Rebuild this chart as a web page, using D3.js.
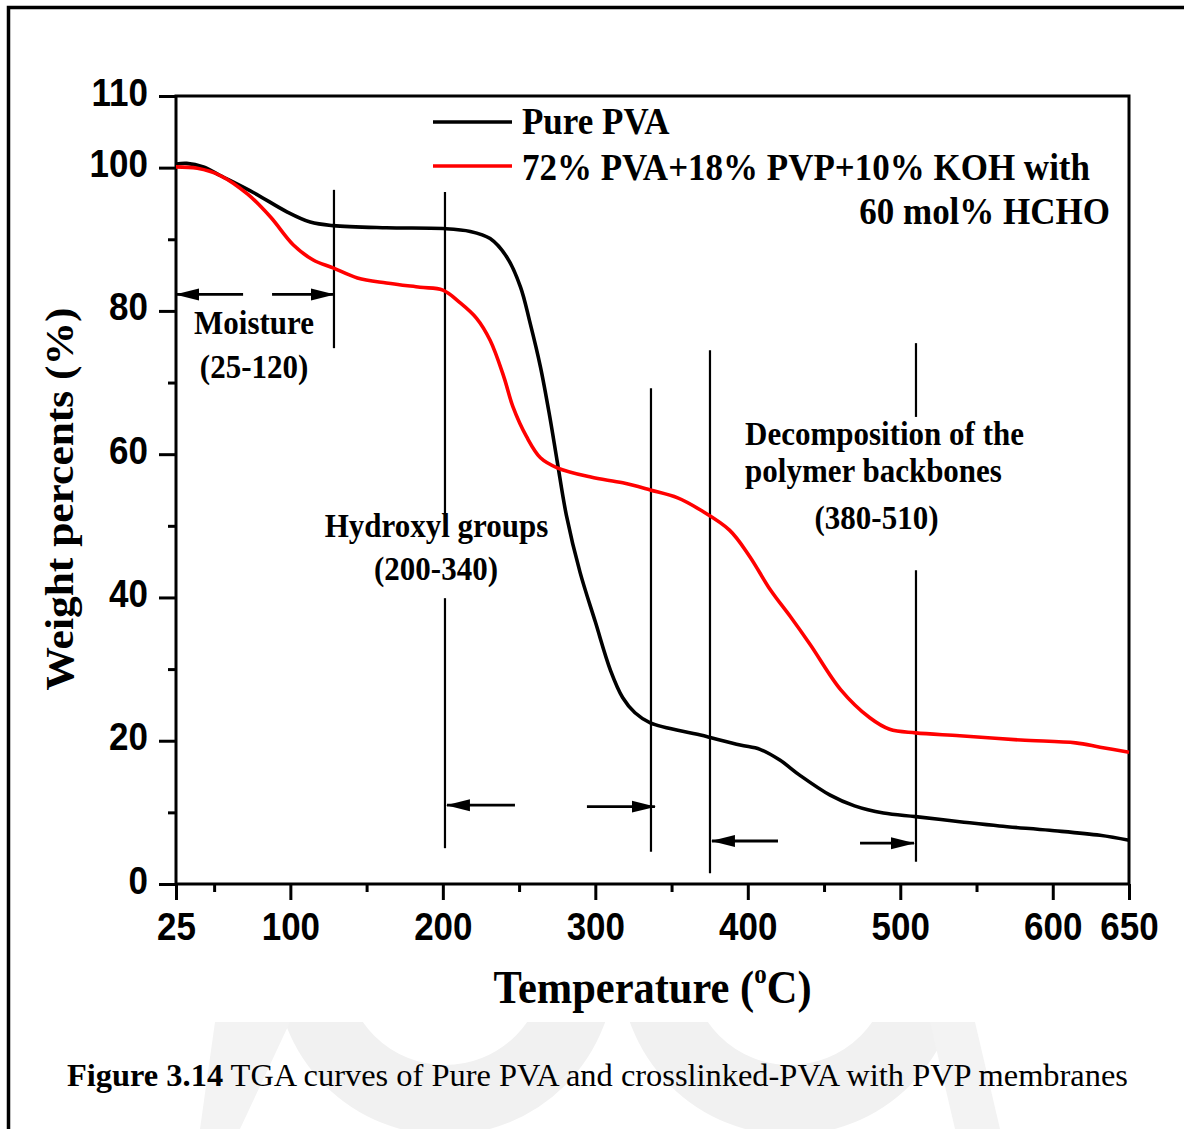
<!DOCTYPE html>
<html>
<head>
<meta charset="utf-8">
<script src="https://cdn.jsdelivr.net/npm/d3@7/dist/d3.min.js"></script>
<style>
  body { margin: 0; background: #fff; }
  svg { display: block; }
</style>
</head>
<body>
<div id="chart"></div>
<script>
// values: temperature (°C) and weight (%)
const pvaTemp = [25, 32, 43, 54, 76, 98, 113, 128, 163, 200, 218, 231, 242, 251, 257, 264, 270, 275, 281, 290, 300, 310, 318, 326, 336, 369, 395, 408, 421, 434, 454, 470, 489, 510, 539, 565, 598, 631, 650];
const pvaWeight = [100.5, 100.6, 100.1, 98.9, 96.5, 93.8, 92.4, 91.9, 91.6, 91.5, 91.1, 90.1, 87.5, 83.3, 78.5, 72.2, 65.4, 59.0, 51.5, 43.5, 36.6, 29.8, 26.0, 23.9, 22.5, 20.8, 19.4, 18.8, 17.3, 15.2, 12.4, 10.9, 9.9, 9.4, 8.7, 8.1, 7.5, 6.8, 6.1];

const blendTemp = [25, 39, 54, 72, 87, 102, 115, 128, 144, 163, 185, 200, 211, 222, 231, 240, 246, 255, 264, 275, 297, 318, 336, 354, 369, 388, 401, 415, 428, 441, 461, 480, 493, 510, 539, 579, 615, 631, 650];
const blendWeight = [100.1, 99.9, 98.9, 96.3, 93.1, 89.2, 87.1, 86.0, 84.6, 83.9, 83.3, 82.9, 81.2, 79.0, 75.9, 70.8, 66.6, 62.4, 59.5, 58.1, 56.8, 56.0, 55.0, 53.9, 52.2, 49.4, 45.8, 41.0, 37.3, 33.4, 27.1, 23.2, 21.6, 21.1, 20.7, 20.1, 19.7, 19.1, 18.4];

const xTicks = [25, 100, 200, 300, 400, 500, 600, 650];
const xMinorTicks = [50, 150, 250, 350, 450, 550];
const yTicks = [0, 20, 40, 60, 80, 100, 110];
const yMinorTicks = [10, 30, 50, 70, 90];

const legendLabels = ["Pure PVA", "72% PVA+18% PVP+10% KOH with", "60 mol% HCHO"];
const seriesColors = ["#000000", "#ff0000"];

// region markers (temperature of the line, weight range it spans)
const markerLines = [
    [128.6, 96.9, 74.8],
    [201.4, 96.6, 50.4], [201.4, 39.9, 5.0],
    [336.5, 69.2, 4.5],
    [375.2, 74.5, 1.5],
    [510.3, 75.5, 65.2], [510.3, 43.8, 3.1]
];
// arrows: [from temp, to temp (tip), weight]
const markerArrows = [
    [69, 25, 82.3], [88, 128.6, 82.3],
    [247.3, 202.7, 11.0], [294.5, 339.1, 10.8],
    [419.8, 376.5, 6.0], [473.6, 509.0, 5.7]
];
// region texts: [text, temp, weight, anchor]
const regionTexts = [
    ["Moisture", 76.2, 76.8, "middle"],
    ["(25-120)", 76.2, 70.6, "middle"],
    ["Hydroxyl groups", 195.8, 48.4, "middle"],
    ["(200-340)", 195.5, 42.4, "middle"],
    ["Decomposition of the", 398.2, 61.3, "start"],
    ["polymer backbones", 398.2, 56.1, "start"],
    ["(380-510)", 484.4, 49.6, "middle"]
];

const width = 1184, height = 1129;
const plot = { left: 176, right: 1129, top: 96, bottom: 884 };
const serif = "'Liberation Serif', 'Times New Roman', serif";
const sans = "'Liberation Sans', Arial, sans-serif";
const stretch = 1.1; // the source picture is slightly taller than wide

const svg = d3.select('#chart')
    .append('svg')
    .attr('width', width)
    .attr('height', height);

svg.append('rect').attr('width', width).attr('height', height).attr('fill', '#fff');

// faint watermark under the caption
svg.append('clipPath').attr('id', 'wmClip')
    .append('rect').attr('x', 0).attr('y', 1022).attr('width', width).attr('height', 110);
const wm = svg.append('g').attr('clip-path', 'url(#wmClip)');
wm.append('circle').attr('cx', 445).attr('cy', 965).attr('r', 135)
    .attr('fill', 'none').attr('stroke', '#f1f1f1').attr('stroke-width', 70);
wm.append('circle').attr('cx', 790).attr('cy', 965).attr('r', 135)
    .attr('fill', 'none').attr('stroke', '#f1f1f1').attr('stroke-width', 70);
wm.append('path').attr('d', 'M215,1022 L290,1022 L240,1129 L200,1129 Z').attr('fill', '#f3f3f3');
wm.append('path').attr('d', 'M930,1022 L975,1022 L1000,1129 L955,1129 Z').attr('fill', '#f3f3f3');

// page frame (left and top edges)
svg.append('path')
    .attr('d', `M8.5,${height} V7.5 H${width}`)
    .attr('fill', 'none').attr('stroke', '#000').attr('stroke-width', 3.5);

const x = d3.scaleLinear().domain([25, 650]).range([plot.left, plot.right]);
const y = d3.scaleLinear().domain([0, 110]).range([plot.bottom, plot.top]);

function styleAxis(g) {
    g.select('.domain').remove();
    g.selectAll('.tick line').attr('stroke', '#000').attr('stroke-width', 3);
}

// minor ticks first, then major ticks with labels
svg.append('g')
    .attr('transform', `translate(0,${plot.bottom})`)
    .call(d3.axisBottom(x).tickValues(xMinorTicks).tickSize(8).tickFormat(''))
    .call(styleAxis);
svg.append('g')
    .attr('transform', `translate(0,${plot.bottom})`)
    .call(d3.axisBottom(x).tickValues(xTicks).tickSize(16).tickFormat(d3.format('d')))
    .call(styleAxis)
    .call(g => g.selectAll('.tick text')
        .attr('y', 56 / stretch).attr('dy', 0)
        .attr('transform', `scale(1,${stretch})`)
        .style('font-family', sans).style('font-weight', 'bold').style('font-size', '35px')
        .attr('fill', '#000'));

svg.append('g')
    .attr('transform', `translate(${plot.left},0)`)
    .call(d3.axisLeft(y).tickValues(yMinorTicks).tickSize(8).tickFormat(''))
    .call(styleAxis);
svg.append('g')
    .attr('transform', `translate(${plot.left},0)`)
    .call(d3.axisLeft(y).tickValues(yTicks).tickSize(17).tickFormat(d3.format('d')))
    .call(styleAxis)
    .call(g => g.selectAll('.tick text')
        .attr('x', -28).attr('y', 9 / stretch).attr('dy', 0)
        .attr('transform', `scale(1,${stretch})`)
        .style('font-family', sans).style('font-weight', 'bold').style('font-size', '35px')
        .attr('fill', '#000'));

// plot box
svg.append('rect')
    .attr('x', plot.left).attr('y', plot.top)
    .attr('width', plot.right - plot.left).attr('height', plot.bottom - plot.top)
    .attr('fill', 'none').attr('stroke', '#000').attr('stroke-width', 3);

// arrow head
svg.append('defs').append('marker')
    .attr('id', 'head')
    .attr('markerUnits', 'userSpaceOnUse')
    .attr('viewBox', '0 -7 24 14')
    .attr('refX', 23).attr('refY', 0)
    .attr('markerWidth', 24).attr('markerHeight', 14)
    .attr('orient', 'auto')
    .append('path').attr('d', 'M0,-6L24,0L0,6Z').attr('fill', '#000');

svg.append('g')
    .selectAll('line')
    .data(markerLines)
    .join('line')
    .attr('x1', d => x(d[0])).attr('x2', d => x(d[0]))
    .attr('y1', d => y(d[1])).attr('y2', d => y(d[2]))
    .attr('stroke', '#000').attr('stroke-width', 2.2);

svg.append('g')
    .selectAll('line')
    .data(markerArrows)
    .join('line')
    .attr('x1', d => x(d[0])).attr('x2', d => x(d[1]))
    .attr('y1', d => y(d[2])).attr('y2', d => y(d[2]))
    .attr('stroke', '#000').attr('stroke-width', 2.8)
    .attr('marker-end', 'url(#head)');

// curves
const line = d3.line()
    .x(d => x(d[0]))
    .y(d => y(d[1]))
    .curve(d3.curveCatmullRom.alpha(0.5));

const series = [
    d3.zip(pvaTemp, pvaWeight),
    d3.zip(blendTemp, blendWeight)
];

svg.append('g')
    .selectAll('path')
    .data(series)
    .join('path')
    .attr('d', line)
    .attr('fill', 'none')
    .attr('stroke', (d, i) => seriesColors[i])
    .attr('stroke-width', 3.6)
    .attr('stroke-linejoin', 'round');

function addText(txt, px, py, size, anchor, weight = 'bold', family = serif) {
    return svg.append('text')
        .attr('transform', `translate(${px},${py}) scale(1,${stretch})`)
        .attr('text-anchor', anchor)
        .style('font-family', family)
        .style('font-weight', weight)
        .style('font-size', size + 'px')
        .attr('fill', '#000')
        .text(txt);
}

// region labels
regionTexts.forEach(d => addText(d[0], x(d[1]), y(d[2]), 31, d[3]));

// legend
[122, 166].forEach((ly, i) => {
    svg.append('line')
        .attr('x1', 433).attr('x2', 512).attr('y1', ly).attr('y2', ly)
        .attr('stroke', seriesColors[i]).attr('stroke-width', 3.6);
});
addText(legendLabels[0], 522, 134, 35, 'start');
addText(legendLabels[1], 522, 180, 35, 'start');
addText(legendLabels[2], 1110, 224, 35, 'end');

// axis titles
const xTitle = addText('Temperature (', (plot.left + plot.right) / 2, 1003, 42.5, 'middle');
xTitle.append('tspan').attr('dy', -18).style('font-size', '25px').text('o');
xTitle.append('tspan').attr('dy', 18).text('C)');

svg.append('text')
    .attr('transform', `translate(73,499) scale(1,${stretch}) rotate(-90)`)
    .attr('text-anchor', 'middle')
    .style('font-family', serif).style('font-weight', 'bold').style('font-size', '39.5px')
    .attr('fill', '#000')
    .text('Weight percents (%)');

// caption
const caption = svg.append('text')
    .attr('transform', `translate(67,1086) scale(1,${stretch})`)
    .attr('textLength', 1061).attr('lengthAdjust', 'spacingAndGlyphs')
    .style('font-family', serif).style('font-size', '28px')
    .attr('fill', '#000');
caption.append('tspan').style('font-weight', 'bold').text('Figure 3.14');
caption.append('tspan').text(' TGA curves of Pure PVA and crosslinked-PVA with PVP membranes');
</script>
</body>
</html>
